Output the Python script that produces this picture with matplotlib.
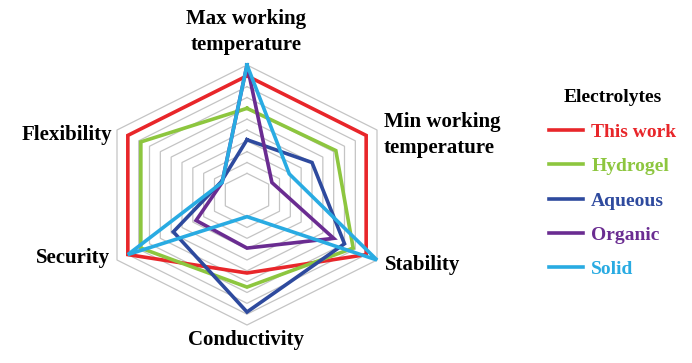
import numpy as np
import matplotlib
matplotlib.use('Agg')
import matplotlib.pyplot as plt

# axes of the radar, clockwise from the top
axis_labels = ['Max working\ntemperature', 'Min working\ntemperature', 'Stability',
               'Conductivity', 'Security', 'Flexibility']
series_names = ['This work', 'Hydrogel', 'Aqueous', 'Organic', 'Solid']

# values in grid-ring units (outer ring = 12)
this_work = [11, 11, 11, 7.2, 11, 11]
hydrogel = [8, 8.2, 9.8, 8.5, 9.8, 9.8]
aqueous = [5.1, 6, 9, 10.8, 6.8, 2.4]
organic = [12, 2.3, 8, 4.9, 4.7, 2.3]
solid = [12, 3.9, 12, 2, 11, 2.3]
series = [this_work, hydrogel, aqueous, organic, solid]
colors = ['#E8262A', '#8DC63F', '#2E4A9E', '#6A2C91', '#29ABE2']
rings = np.arange(2, 13)

angles = np.radians([90, 30, -30, -90, -150, 150])
sx = 1 / np.cos(np.radians(30))   # chart is stretched sideways


def to_xy(vals):
    v = np.append(vals, vals[0])
    a = np.append(angles, angles[0])
    return v * np.cos(a) * sx, v * np.sin(a)


W, H = 692, 363
fig = plt.figure(figsize=(W / 100, H / 100), dpi=100)

# radar axes: centre at (247, 195) px, 12 units = 130 px
unit = 130 / 12
cx, cy, half = 247, 195, 150
ax = fig.add_axes([(cx - half) / W, (H - cy - half) / H, 2 * half / W, 2 * half / H])
ax.set_xlim(-half / unit, half / unit)
ax.set_ylim(-half / unit, half / unit)
ax.axis('off')

for r in rings:
    x, y = to_xy([r] * 6)
    ax.plot(x, y, color='#C4C4C4', lw=0.9, zorder=1)

lines = []
for vals, c, name in zip(series, colors, series_names):
    x, y = to_xy(vals)
    ln, = ax.plot(x, y, color=c, lw=2.6, solid_joinstyle='miter', zorder=2, label=name)
    lines.append(ln)

font = dict(family='Liberation Serif', weight='bold', size=15)


def px(x, y):
    return x / W, 1 - y / H


fig.text(*px(246, 32), axis_labels[0], ha='center', va='center', linespacing=1.4, **font)
fig.text(*px(384, 135), axis_labels[1], ha='left', va='center', linespacing=1.4, **font)
fig.text(*px(385, 265), axis_labels[2], ha='left', va='center', **font)
fig.text(*px(246, 340), axis_labels[3], ha='center', va='center', **font)
fig.text(*px(110, 258), axis_labels[4], ha='right', va='center', **font)
fig.text(*px(112, 135), axis_labels[5], ha='right', va='center', **font)

leg_font = dict(family='Liberation Serif', weight='bold', size=14)
leg = fig.legend(lines, series_names, loc='upper left', bbox_to_anchor=px(531, 72),
                 frameon=False, title='Electrolytes', labelcolor='linecolor',
                 prop=leg_font, title_fontproperties=leg_font,
                 handlelength=1.75, handletextpad=0.45, labelspacing=0.86)

fig.savefig('out.png', dpi=100)
